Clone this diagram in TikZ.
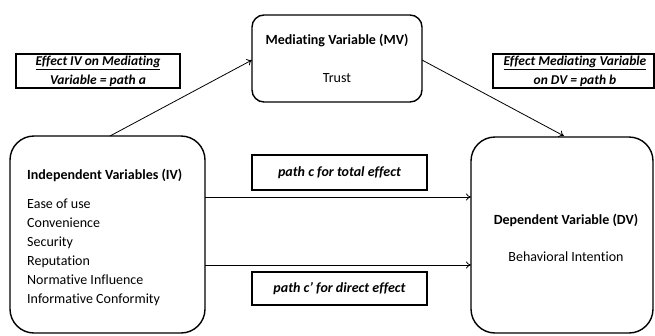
\documentclass[tikz,border=0pt]{standalone}
\usepackage{fontspec}
\setmainfont{Carlito}[Ligatures=NoCommon]
\usetikzlibrary{arrows.meta}
\begin{document}
\begin{tikzpicture}[x=1pt,y=-1pt,
  bigbox/.style={draw,line width=1.4pt,rounded corners=24pt},
  midbox/.style={draw,line width=1.4pt,rounded corners=12pt},
  lblbox/.style={draw,line width=1.2pt},
  lbl/.style={font=\fontsize{14}{19}\selectfont\bfseries\itshape,align=center,inner sep=0pt},
  toplbl/.style={font=\fontsize{13.5}{19}\selectfont\bfseries\itshape,align=center,inner sep=0pt},
  txt/.style={font=\fontsize{14}{19}\selectfont,inner sep=0pt},
  hd/.style={font=\fontsize{14}{19}\selectfont\bfseries,inner sep=0pt},
  conn/.style={draw,line width=0.8pt,-{To[length=5pt,width=7pt]}}]
\useasboundingbox (0,0) rectangle (655,335);
% boxes
\draw[bigbox] (10,136) rectangle (205,333);
\draw[bigbox] (471,137) rectangle (653,333);
\draw[midbox] (252,15) rectangle (422,102);
\coordinate (ivtop) at (110,136);
\coordinate (dvtop) at (564,136);
\coordinate (mvl) at (252,60);
\coordinate (mvr) at (422,60);
\coordinate (ivr1) at (205,197);
\coordinate (dvl1) at (471,197);
\coordinate (ivr2) at (205,265);
\coordinate (dvl2) at (471,265);
% texts
\node[hd] (mvt) at (337,40) {Mediating Variable (MV)};
\node[txt] (trust) at (337,78) {Trust};
\node[hd,anchor=west] (ivt) at (27,175) {Independent Variables (IV)};
\node[txt,anchor=north west,align=left] (ivl) at (27,199) {Ease of use\\Convenience\\Security\\Reputation\\Normative Influence\\Informative Conformity};
\node[hd] (dvt) at (566,220) {Dependent Variable (DV)};
\node[txt] (dvb) at (566,257) {Behavioral Intention};
% labels
\draw[lblbox] (16,54) rectangle (180,88);
\node[toplbl] (la) at (98,72) {\underline{Effect IV on Mediating}\\\underline{Variable = path a}};
\draw[lblbox] (493,54) rectangle (654,88);
\node[toplbl] (lb) at (575,72) {\underline{Effect Mediating Variable}\\\underline{on DV = path b}};
\draw[lblbox] (252,155) rectangle (427,190);
\node[lbl] (lc) at (339.5,172.5) {path c for total effect};
\draw[lblbox] (252,272) rectangle (427,305);
\node[lbl] (ld) at (339.5,288.5) {path c’ for direct effect};
% connectors
\draw[conn] (ivtop) -- (mvl);
\draw[conn] (mvr) -- (dvtop);
\draw[conn] (ivr1) -- (dvl1);
\draw[conn] (ivr2) -- (dvl2);
\end{tikzpicture}
\end{document}
